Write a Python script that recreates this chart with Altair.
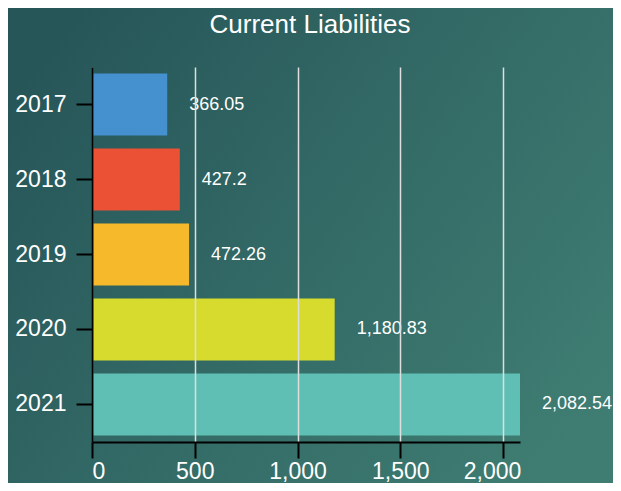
import altair as alt
import pandas as pd

years = ["2017", "2018", "2019", "2020", "2021"]
values = [366.05, 427.2, 472.26, 1180.83, 2082.54]
colors = ["#4590CE", "#EB5134", "#F7B92C", "#D6DB2D", "#60BFB4"]
x_ticks = [0, 500, 1000, 1500, 2000]

df = pd.DataFrame({"year": years, "value": values})
FONT = "Liberation Sans, Arial, sans-serif"

W, H = 428, 375
PAD = {"left": 84, "top": 59, "right": 93, "bottom": 41}

bg = alt.Chart(pd.DataFrame({"a": [0]})).mark_rect(
    fill=alt.LinearGradient(
        gradient="linear",
        stops=[
            alt.GradientStop(color="#275659", offset=0),
            alt.GradientStop(color="#336a66", offset=0.5),
            alt.GradientStop(color="#3f7d72", offset=1),
        ],
        x1=0, y1=0.2, x2=1, y2=0.8,
    )
).encode(
    x=alt.value(-PAD["left"]),
    x2=alt.value(W + PAD["right"]),
    y=alt.value(-PAD["top"]),
    y2=alt.value(H + PAD["bottom"]),
)

y_enc = alt.Y(
    "year:O",
    sort=years,
    scale=alt.Scale(paddingInner=0.173, paddingOuter=0.087),
    axis=alt.Axis(
        title=None,
        labelFontSize=23,
        labelColor="white",
        labelFont=FONT,
        labelPadding=10,
        tickSize=16,
        tickColor="black",
        tickWidth=2,
        domainColor="black",
        domainWidth=2,
        grid=False,
        zindex=1,
    ),
)

x_enc = alt.X(
    "value:Q",
    scale=alt.Scale(domain=[0, max(values)], nice=False),
    axis=alt.Axis(
        title=None,
        values=x_ticks,
        format=",d",
        labelFontSize=23,
        labelColor="white",
        labelFont=FONT,
        labelBaseline="alphabetic",
        labelPadding=20,
        labelFlush=True,
        labelOffset={"condition": {"test": "datum.value == 2000", "value": -11}, "value": 0},
        tickSize=16,
        tickColor="black",
        tickWidth=2,
        domainColor="black",
        domainWidth=2,
        grid=True,
        gridColor="#dedede",
        gridWidth=1.5,
        zindex=1,
    ),
)

bars = alt.Chart(df).mark_bar().encode(
    y=y_enc,
    x=x_enc,
    color=alt.Color("year:O", scale=alt.Scale(domain=years, range=colors), legend=None),
)

labels = alt.Chart(df).mark_text(
    align="left", baseline="middle", dx=22, fontSize=18, color="white", font=FONT
).encode(
    y=alt.Y("year:O", sort=years),
    x=alt.X("value:Q"),
    text=alt.Text("value:Q", format=",.2~f"),
)

chart = alt.layer(bg, bars, labels).properties(
    width=W,
    height=H,
    title=alt.TitleParams(
        "Current Liabilities",
        fontSize=26,
        color="white",
        font=FONT,
        fontWeight="normal",
        anchor="middle",
        frame="group",
        dx=4,
        offset=-30,
        zindex=1,
    ),
    autosize=alt.AutoSizeParams(type="none"),
    padding=PAD,
).configure(background="#30625f").configure_view(stroke=None)

chart.save("out.html", embed_options={"renderer": "svg", "actions": False})
